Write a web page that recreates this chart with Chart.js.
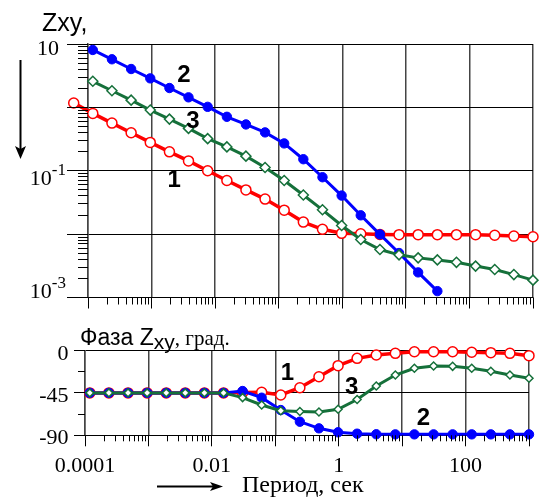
<!DOCTYPE html>
<html>
<head>
<meta charset="utf-8">
<title>Zxy</title>
<script src="https://cdn.jsdelivr.net/npm/chart.js@4.4.1/dist/chart.umd.min.js"></script>
<style>
  html, body { margin: 0; padding: 0; background: #fff; }
  .box { position: relative; width: 541px; height: 502px; }
  canvas { position: absolute; left: 0; }
  #ampChart { top: 0; }
  #phaseChart { top: 320px; }
</style>
</head>
<body>
<div class="box">
  <canvas id="ampChart" width="541" height="320"></canvas>
  <canvas id="phaseChart" width="541" height="182"></canvas>
</div>
<script>
// периоды, сек; самая первая точка есть только у кривой 1 на графике модуля
const periods = [0.0000596, 0.000119, 0.000238, 0.000477, 0.000954, 0.00191, 0.00381, 0.00763,
    0.0153, 0.0305, 0.061, 0.122, 0.244, 0.488, 0.977, 1.95, 3.91, 7.81, 15.6, 31.3, 62.5, 125, 250, 500, 1000];

// модуль Zxy
const ampCurve1 = [1.17, 0.804, 0.565, 0.397, 0.28, 0.199, 0.143, 0.1, 0.0701, 0.0498, 0.0357, 0.0239, 0.0155,
    0.0119, 0.0103, 0.0101, 0.0099, 0.0098, 0.0098, 0.0098, 0.0098, 0.0098, 0.0096, 0.0093, 0.0091];
const ampCurve2 = [8.05, 5.74, 4.03, 2.87, 2.02, 1.44, 1.02, 0.71, 0.538, 0.403, 0.27, 0.152, 0.079,
    0.0406, 0.0198, 0.0099, 0.00503, 0.00249, 0.00126];
const ampCurve3 = [2.58, 1.83, 1.3, 0.906, 0.653, 0.466, 0.321, 0.238, 0.17, 0.1125, 0.0701, 0.0415, 0.0242,
    0.0137, 0.00822, 0.00571, 0.00471, 0.00422, 0.00392, 0.00359, 0.00313, 0.00276, 0.0023, 0.00188];

// фаза Zxy, град.
const phaseCurve1 = [-45, -45, -45, -45, -45, -45, -45, -45, -44.6, -44.4, -47.2, -39.5, -27.8, -16.1,
    -8.3, -4.8, -3.0, -1.3, -1.3, -1.3, -1.9, -2.3, -3.0, -5.5];
const phaseCurve2 = [-45, -45, -45, -45, -45, -45, -45, -45, -43, -50.1, -63.2, -75.6, -82.6, -86.8,
    -88.3, -88.9, -89, -89, -89, -89, -89, -89, -89, -89];
const phaseCurve3 = [-45, -45, -45, -45, -45, -45, -45, -45, -50, -57.8, -63.9, -64.7, -65.3, -62.4,
    -52, -37.7, -26, -18.9, -16.5, -16.8, -18.9, -22, -26, -29.5];

const curveNames = ['1', '2', '3'];
const ampTickLabels = [10, 0.1, 0.001];
const phaseTickLabels = [0, -45, -90];
const periodTickLabels = [0.0001, 0.01, 1, 100];
const periodTickText = ['0.0001', '0.01', '1', '100'];

// где стоят номера кривых (в координатах данных)
const ampNamePos = [{x: 0.00226, y: 0.075}, {x: 0.00324, y: 3.49}, {x: 0.00449, y: 0.656}];
const phaseNamePos = [{x: 0.156, y: -22.5}, {x: 21.6, y: -70.3}, {x: 1.6, y: -37.1}];
const ampLabelShift = [11, 14.5, 0.5];

const RED = '#ff0000';
const BLUE = '#0000ff';
const GREEN = '#15703a';
const SERIF = '"Liberation Serif", "Times New Roman", serif';
const SANS = '"Liberation Sans", Arial, sans-serif';

const pts = (xs, ys) => ys.map((v, i) => ({x: xs[i], y: v}));

function isDecade(v) {
    const l = Math.log10(Math.abs(v));
    return Math.abs(l - Math.round(l)) < 1e-6;
}

function logTicks(minExp, maxExp) {
    const out = [];
    for (let e = minExp; e <= maxExp; e++) {
        for (let m = 1; m < 10; m++) {
            if (e === maxExp && m > 1) break;
            out.push({value: Number(m + 'e' + e)});
        }
    }
    return out;
}

const align = p => Math.round(p - 0.5) + 0.5;

// засечки на осях + подписи, рисуются поверх графика
function makeMarks(cfg) {
    return {
        id: 'marks',
        afterDatasetsDraw(chart) {
            // точки за краем области графика Chart.js сам не рисует
            const a = chart.chartArea;
            const big = {left: -1e4, top: -1e4, right: 1e4, bottom: 1e4};
            for (let i = chart.data.datasets.length - 1; i >= 0; i--) {
                chart.getDatasetMeta(i).data.forEach(el => {
                    if (el.x < a.left - 4 || el.x > a.right + 4 || el.y < a.top - 4 || el.y > a.bottom + 4) {
                        el.draw(chart.ctx, big);
                    }
                });
            }
        },
        afterDraw(chart) {
            const {ctx, chartArea: a, scales: {x, y}} = chart;
            ctx.save();
            ctx.strokeStyle = '#000';
            ctx.lineWidth = 1;
            ctx.beginPath();
            x.ticks.forEach(t => {
                const p = align(x.getPixelForValue(t.value));
                const len = isDecade(t.value) ? cfg.xMajor : cfg.xMinor;
                ctx.moveTo(p, a.bottom);
                ctx.lineTo(p, a.bottom + len);
            });
            y.ticks.forEach(t => {
                const p = align(y.getPixelForValue(t.value));
                const len = cfg.yIsMajor(t.value) ? cfg.yMajor : cfg.yMinor;
                ctx.moveTo(a.left - len, p);
                ctx.lineTo(a.left, p);
            });
            ctx.stroke();
            ctx.fillStyle = '#000';
            cfg.extra(chart, ctx);
            ctx.restore();
        }
    };
}

function drawNames(chart, ctx, pos) {
    const {x, y} = chart.scales;
    ctx.font = 'bold 24px ' + SANS;
    ctx.textAlign = 'center';
    ctx.textBaseline = 'alphabetic';
    pos.forEach((p, i) => {
        ctx.fillText(curveNames[i], x.getPixelForValue(p.x), y.getPixelForValue(p.y) + 8.6);
    });
}

function drawAmpExtras(chart, ctx) {
    const a = chart.chartArea;
    const y = chart.scales.y;
    ctx.textBaseline = 'alphabetic';
    ctx.textAlign = 'right';
    ampTickLabels.forEach((v, i) => {
        const py = y.getPixelForValue(v) + ampLabelShift[i];
        const exp = Math.round(Math.log10(v));
        if (exp === 1) {
            ctx.font = '22px ' + SERIF;
            ctx.fillText('10', a.left - 29, py);
            return;
        }
        const sup = '-' + Math.abs(exp);
        const right = a.left - 22;
        ctx.font = '17px ' + SERIF;
        ctx.fillText(sup, right, py - 10.5);
        const w = ctx.measureText(sup).width;
        ctx.font = '22px ' + SERIF;
        ctx.fillText('10', right - w, py);
    });

    ctx.textAlign = 'left';
    ctx.font = '25px ' + SANS;
    ctx.fillText('Zxy,', 42, 31);

    // стрелка вниз
    ctx.lineWidth = 2;
    ctx.beginPath();
    ctx.moveTo(20.5, 60);
    ctx.lineTo(20.5, 150);
    ctx.stroke();
    ctx.beginPath();
    ctx.moveTo(20.5, 159);
    ctx.lineTo(15, 146);
    ctx.lineTo(20.5, 149);
    ctx.lineTo(26, 146);
    ctx.closePath();
    ctx.fill();

    drawNames(chart, ctx, ampNamePos);
}

function drawPhaseExtras(chart, ctx) {
    const a = chart.chartArea;
    const {x, y} = chart.scales;
    ctx.textBaseline = 'alphabetic';
    ctx.font = '22px ' + SERIF;
    ctx.textAlign = 'right';
    phaseTickLabels.forEach(v => {
        ctx.fillText(String(v), a.left - 16.5, y.getPixelForValue(v) + 9);
    });
    ctx.textAlign = 'center';
    periodTickLabels.forEach((v, i) => {
        ctx.fillText(periodTickText[i], x.getPixelForValue(v), a.bottom + 36.7);
    });

    // заголовок "Фаза Zxy, град."
    ctx.textAlign = 'left';
    let cx = 80;
    ctx.font = '23px ' + SANS;
    ctx.fillText('Фаза Z', cx, 25);
    cx += ctx.measureText('Фаза Z').width;
    ctx.font = '21px ' + SANS;
    ctx.fillText('xy', cx, 29);
    cx += ctx.measureText('xy').width;
    ctx.font = '21px ' + SERIF;
    ctx.fillText(', град.', cx, 25);

    // стрелка вправо и подпись оси
    ctx.lineWidth = 2;
    ctx.beginPath();
    ctx.moveTo(157, 166.5);
    ctx.lineTo(214, 166.5);
    ctx.stroke();
    ctx.beginPath();
    ctx.moveTo(223, 166.5);
    ctx.lineTo(210, 162);
    ctx.lineTo(213, 166.5);
    ctx.lineTo(210, 171);
    ctx.closePath();
    ctx.fill();
    ctx.font = '24px ' + SERIF;
    ctx.fillText('Период, сек', 242, 172);

    drawNames(chart, ctx, phaseNamePos);
}

const vGrid = {
    color: c => (c.tick && isDecade(c.tick.value)) ? '#444' : 'rgba(0,0,0,0)',
    lineWidth: 1.5,
    drawTicks: false
};

function series(label, data, color, style, radius, filled, width) {
    return {
        label: label,
        data: data,
        borderColor: color,
        borderWidth: width,
        tension: 0,
        pointStyle: style,
        pointRadius: radius,
        pointBorderWidth: filled ? 1 : 1.5,
        pointBorderColor: color,
        pointBackgroundColor: filled ? color : '#fff',
        clip: false
    };
}

// модуль
const ampChart = new Chart(document.getElementById('ampChart'), {
    type: 'line',
    data: {
        datasets: [
            series('3', pts(periods.slice(1), ampCurve3), GREEN, 'rectRot', 5, false, 3),
            series('2', pts(periods.slice(1), ampCurve2), BLUE, 'circle', 4.7, true, 3),
            series('1', pts(periods, ampCurve1), RED, 'circle', 5, false, 3.5)
        ]
    },
    options: {
        responsive: false,
        animation: false,
        layout: { padding: { left: 88, top: 44, right: 8, bottom: 22.5 } },
        plugins: { legend: { display: false }, tooltip: { enabled: false } },
        scales: {
            x: {
                type: 'logarithmic',
                min: 0.0001,
                max: 1000,
                afterBuildTicks: s => { s.ticks = logTicks(-4, 3); },
                ticks: { display: false },
                grid: vGrid,
                border: { display: true, color: '#000', width: 1 }
            },
            y: {
                type: 'logarithmic',
                min: 0.001,
                max: 10,
                afterBuildTicks: s => { s.ticks = logTicks(-3, 1); },
                ticks: { display: false },
                grid: {
                    color: c => (c.tick && isDecade(c.tick.value)) ? '#000' : 'rgba(0,0,0,0)',
                    lineWidth: 1,
                    drawTicks: false
                },
                border: { display: true, color: '#444', width: 1.5 }
            }
        }
    },
    plugins: [makeMarks({
        xMajor: 11, xMinor: 7, yMajor: 21, yMinor: 10,
        yIsMajor: isDecade,
        extra: drawAmpExtras
    })]
});

// фаза
const phaseChart = new Chart(document.getElementById('phaseChart'), {
    type: 'line',
    data: {
        datasets: [
            series('3', pts(periods.slice(1), phaseCurve3), GREEN, 'rectRot', 4, false, 3),
            series('2', pts(periods.slice(1), phaseCurve2), BLUE, 'circle', 4.7, true, 3),
            series('1', pts(periods.slice(1), phaseCurve1), RED, 'circle', 5, false, 3.5)
        ]
    },
    options: {
        responsive: false,
        animation: false,
        layout: { padding: { left: 85, top: 30.5, right: 12, bottom: 66.7 } },
        plugins: { legend: { display: false }, tooltip: { enabled: false } },
        scales: {
            x: {
                type: 'logarithmic',
                min: 0.0001,
                max: 1000,
                afterBuildTicks: s => { s.ticks = logTicks(-4, 3); },
                ticks: { display: false },
                grid: vGrid,
                border: { display: true, color: '#000', width: 1 }
            },
            y: {
                type: 'linear',
                min: -90,
                max: 0,
                afterBuildTicks: s => { s.ticks = [-90, -67.5, -45, -22.5, 0].map(v => ({value: v})); },
                ticks: { display: false },
                grid: {
                    color: c => (c.tick && c.tick.value % 45 === 0) ? '#000' : 'rgba(0,0,0,0)',
                    lineWidth: 1,
                    drawTicks: false
                },
                border: { display: true, color: '#444', width: 1.5 }
            }
        }
    },
    plugins: [makeMarks({
        xMajor: 11, xMinor: 6, yMajor: 11, yMinor: 7,
        yIsMajor: v => v % 45 === 0,
        extra: drawPhaseExtras
    })]
});
</script>
</body>
</html>
